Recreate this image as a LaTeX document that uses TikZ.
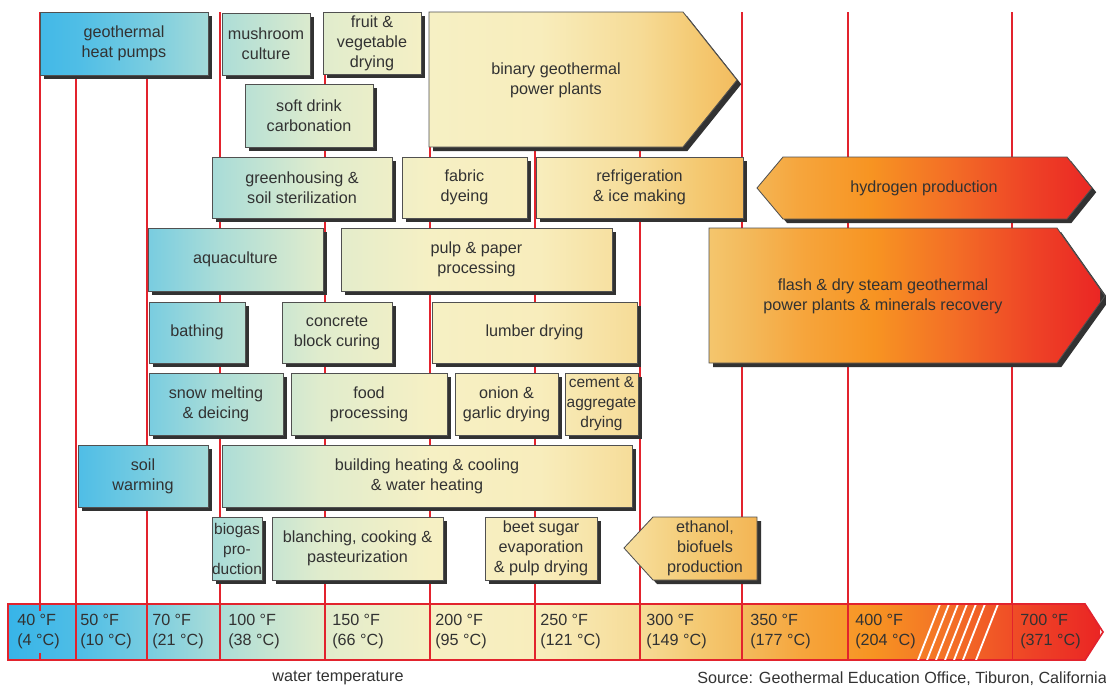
\documentclass[tikz,border=0pt]{standalone}
\usepackage{fontspec}
\setmainfont{Liberation Sans}
\definecolor{LineRed}{RGB}{226,35,45}
\definecolor{InkGray}{RGB}{50,50,50}
\definecolor{EdgeGray}{RGB}{80,80,80}
\definecolor{ShadowGray}{RGB}{50,50,50}
\definecolor{TempA}{RGB}{55,180,232}
\definecolor{TempB}{RGB}{80,190,230}
\definecolor{TempC}{RGB}{122,205,224}
\definecolor{TempD}{RGB}{172,221,215}
\definecolor{TempE}{RGB}{224,236,205}
\definecolor{TempF}{RGB}{246,240,196}
\definecolor{TempG}{RGB}{248,237,188}
\definecolor{TempH}{RGB}{246,219,150}
\definecolor{TempI}{RGB}{244,200,112}
\definecolor{TempJ}{RGB}{243,186,92}
\definecolor{TempK}{RGB}{246,165,60}
\definecolor{TempL}{RGB}{247,148,34}
\definecolor{TempM}{RGB}{243,110,38}
\definecolor{TempN}{RGB}{238,66,38}
\definecolor{TempO}{RGB}{234,36,36}
\pgfdeclarehorizontalshading{tempscale}{100bp}{color(0bp)=(TempA); color(25bp)=(TempA);
  color(28.30bp)=(TempB); color(31.50bp)=(TempC); color(34.71bp)=(TempD);
  color(39.29bp)=(TempE); color(44.32bp)=(TempF); color(49.36bp)=(TempG);
  color(53.94bp)=(TempH); color(56.68bp)=(TempI); color(58.61bp)=(TempJ);
  color(61.26bp)=(TempK); color(64.47bp)=(TempL); color(68.13bp)=(TempM);
  color(71.79bp)=(TempN); color(75bp)=(TempO); color(100bp)=(TempO)}
\tikzset{
  tempshadow/.style={fill=ShadowGray,xshift=3pt,yshift=-3pt},
  tempbox/.style={draw=EdgeGray,line width=0.6pt,
    path picture={\shade[shading=tempscale] (8,0) rectangle (1100,686);}},
  tempbar/.style={draw=LineRed,line width=1.2pt,
    path picture={\shade[shading=tempscale] (8,0) rectangle (1100,686);}},
  boxtext/.style={align=center,text=InkGray,inner sep=0pt,
    font=\fontsize{11.5}{14.2}\selectfont},
  narrowtext/.style={boxtext,font=\fontsize{11}{14.2}\selectfont},
  scaletext/.style={align=left,anchor=west,text=InkGray,inner sep=0pt,
    font=\fontsize{11.5}{14.2}\selectfont},
  templine/.style={LineRed,line width=1.8pt},
  hatchline/.style={white,line width=1.3pt}
}
\newcommand{\tempcell}[1]{\path[tempshadow] #1; \path[tempbox] #1;}

\begin{document}
\begin{tikzpicture}[x=0.025cm,y=-0.025cm]
  \useasboundingbox (0,0) rectangle (1106,686);
  \clip (0,0) rectangle (1106,686);
  \foreach \x in {40,76,147,220,325,430,535,640,742,848,1012}
    \draw[templine] (\x,12) -- (\x,604);

  \tempcell{(40,12) rectangle (208,75)}
  \node[boxtext] (heatpumps) at (124,43.5) {geothermal\\heat pumps};
  \tempcell{(222,13) rectangle (310,75)}
  \node[boxtext] (mushroom) at (266,44) {mushroom\\culture};
  \tempcell{(323,12) rectangle (421,74)}
  \node[boxtext] (fruit) at (372,43) {fruit \&\\vegetable\\drying};
  \tempcell{(429,12) -- (683,12) -- (737,80) -- (683,147) -- (429,147) -- cycle}
  \node[boxtext] (binary) at (556,80) {binary geothermal\\power plants};
  \tempcell{(245,84) rectangle (373,147)}
  \node[boxtext] (softdrink) at (309,115.5) {soft drink\\carbonation};

  \tempcell{(212,157) rectangle (392,218)}
  \node[boxtext] (greenhouse) at (302,187.5) {greenhousing \&\\soil sterilization};
  \tempcell{(402,157) rectangle (527,218)}
  \node[boxtext] (fabric) at (464.5,187.5) {fabric\\dyeing};
  \tempcell{(536,157) rectangle (743,218)}
  \node[boxtext] (refrig) at (639.5,187.5) {refrigeration\\\& ice making};
  \tempcell{(757,188) -- (783,157) -- (1067,157) -- (1092,188) -- (1067,219) -- (783,219) -- cycle}
  \node[boxtext] (hydrogen) at (924,188) {hydrogen production};

  \tempcell{(148,228) rectangle (323,291)}
  \node[boxtext] (aqua) at (235.5,259.5) {aquaculture};
  \tempcell{(341,228) rectangle (612,291)}
  \node[boxtext] (pulp) at (476.5,259.5) {pulp \& paper\\processing};
  \tempcell{(709,228) -- (1057,228) -- (1105,296) -- (1057,363) -- (709,363) -- cycle}
  \node[boxtext] (flash) at (883,296) {flash \& dry steam geothermal\\power plants \& minerals recovery};

  \tempcell{(149,302) rectangle (245,363)}
  \node[boxtext] (bathing) at (197,332.5) {bathing};
  \tempcell{(282,302) rectangle (392,363)}
  \node[boxtext] (concrete) at (337,332.5) {concrete\\block curing};
  \tempcell{(432,302) rectangle (637,363)}
  \node[boxtext] (lumber) at (534.5,332.5) {lumber drying};

  \tempcell{(149,373) rectangle (283,435)}
  \node[boxtext] (snow) at (216,404) {snow melting\\\& deicing};
  \tempcell{(291,373) rectangle (447,435)}
  \node[boxtext] (food) at (369,404) {food\\processing};
  \tempcell{(455,373) rectangle (558,435)}
  \node[boxtext] (onion) at (506.5,404) {onion \&\\garlic drying};
  \tempcell{(565,373) rectangle (638,435)}
  \node[narrowtext] (cement) at (601.5,404) {cement \&\\aggregate\\drying};

  \tempcell{(78,445) rectangle (208,507)}
  \node[boxtext] (soilwarm) at (143,476) {soil\\warming};
  \tempcell{(222,445) rectangle (632,507)}
  \node[boxtext] (building) at (427,476) {building heating \& cooling\\\& water heating};

  \tempcell{(212,517) rectangle (262,580)}
  \node[narrowtext] (biogas) at (237,548.5) {biogas\\pro-\\duction};
  \tempcell{(272,517) rectangle (443,580)}
  \node[boxtext] (blanching) at (357.5,548.5) {blanching, cooking \&\\pasteurization};
  \tempcell{(485,517) rectangle (597,580)}
  \node[boxtext] (beet) at (541,548.5) {beet sugar\\evaporation\\\& pulp drying};
  \tempcell{(624,548) -- (653,517) -- (757,517) -- (757,580) -- (653,580) -- cycle}
  \node[boxtext] (ethanol) at (705,548.5) {ethanol,\\biofuels\\production};

  \path[tempbar] (8,604) -- (1085,604) -- (1103,632) -- (1085,660) -- (8,660) -- cycle;
  \begin{scope}
    \clip (8,605) rectangle (1085,659);
    \foreach \x in {918,927,936,945,954,963,976}
      \draw[hatchline] (\x,660) -- (\x+22,604);
  \end{scope}
  \foreach \x in {76,147,220,325,430,535,640,742,848}
    \draw[templine,line width=1.3pt] (\x,604) -- (\x,660);
  \draw[templine,line width=0.7pt] (1012,604) -- (1012,660);
  \draw[templine] (40,604) -- (40,611) (40,653) -- (40,660);

  \node[scaletext] (t40) at (17,632) {40 °F\\(4 °C)};
  \node[scaletext] (t50) at (80,632) {50 °F\\(10 °C)};
  \node[scaletext] (t70) at (152,632) {70 °F\\(21 °C)};
  \node[scaletext] (t100) at (228,632) {100 °F\\(38 °C)};
  \node[scaletext] (t150) at (332,632) {150 °F\\(66 °C)};
  \node[scaletext] (t200) at (435,632) {200 °F\\(95 °C)};
  \node[scaletext] (t250) at (540,632) {250 °F\\(121 °C)};
  \node[scaletext] (t300) at (646,632) {300 °F\\(149 °C)};
  \node[scaletext] (t350) at (750,632) {350 °F\\(177 °C)};
  \node[scaletext] (t400) at (855,632) {400 °F\\(204 °C)};
  \node[scaletext] (t700) at (1020,632) {700 °F\\(371 °C)};

  \node[boxtext,anchor=base] (axis) at (338,681) {water temperature};
  \node[boxtext,anchor=base west] (source) at (697,683) {Source: Geothermal Education Office, Tiburon, California};
\end{tikzpicture}
\end{document}
